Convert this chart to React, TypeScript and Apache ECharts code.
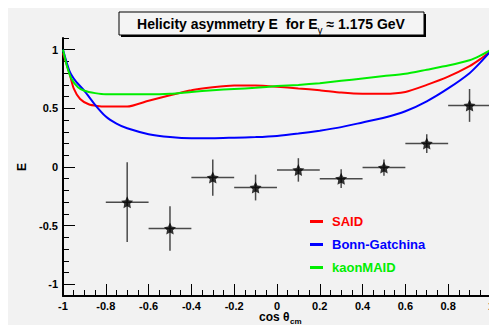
import React, { useEffect, useRef } from "react";
import * as echarts from "echarts";

// Model curves: E versus cos(theta_cm)
const saidX = [-1, -0.97, -0.95, -0.92, -0.88, -0.84, -0.8, -0.7, -0.6, -0.5, -0.4, -0.3, -0.2, -0.1, 0, 0.1, 0.2, 0.3, 0.4, 0.5, 0.6, 0.7, 0.8, 0.9, 0.95, 1];
const saidE = [0.97, 0.8, 0.67, 0.58, 0.535, 0.52, 0.515, 0.515, 0.565, 0.612, 0.655, 0.68, 0.695, 0.695, 0.685, 0.67, 0.655, 0.635, 0.625, 0.625, 0.64, 0.7, 0.77, 0.86, 0.92, 0.99];

const bgX = [-1, -0.97, -0.94, -0.9, -0.85, -0.8, -0.75, -0.7, -0.6, -0.5, -0.4, -0.3, -0.2, -0.1, 0, 0.1, 0.2, 0.3, 0.4, 0.5, 0.6, 0.7, 0.8, 0.9, 0.95, 1];
const bgE = [1.0, 0.82, 0.73, 0.65, 0.53, 0.43, 0.37, 0.33, 0.28, 0.255, 0.245, 0.245, 0.25, 0.255, 0.265, 0.285, 0.31, 0.34, 0.38, 0.42, 0.475, 0.56, 0.67, 0.8, 0.89, 0.99];

const kmX = [-1, -0.98, -0.96, -0.93, -0.9, -0.85, -0.8, -0.7, -0.6, -0.5, -0.4, -0.3, -0.2, -0.1, 0, 0.1, 0.2, 0.3, 0.4, 0.5, 0.6, 0.7, 0.8, 0.9, 0.95, 1];
const kmE = [1.0, 0.85, 0.75, 0.68, 0.65, 0.63, 0.62, 0.62, 0.62, 0.625, 0.64, 0.655, 0.665, 0.675, 0.69, 0.7, 0.715, 0.735, 0.755, 0.775, 0.795, 0.83, 0.865, 0.91, 0.95, 1.0];

// Measured points with errors
const pointX = [-0.7, -0.5, -0.3, -0.1, 0.1, 0.3, 0.5, 0.7, 0.9];
const pointE = [-0.3, -0.525, -0.09, -0.175, -0.025, -0.1, -0.005, 0.2, 0.525];
const pointErrX = [0.1, 0.1, 0.1, 0.1, 0.1, 0.1, 0.1, 0.1, 0.1];
const pointErrE = [0.34, 0.19, 0.155, 0.11, 0.1, 0.08, 0.07, 0.08, 0.14];

// Labelled ticks on the E axis
const yMajorTicks = [-1, -0.5, 0, 0.5, 1];

const FONT = '"Liberation Sans", Arial, Helvetica, sans-serif';
const STAR = "path://M0,-10 L2.9,-4 9.5,-3.1 4.7,1.5 5.9,8.1 0,5 -5.9,8.1 -4.7,1.5 -9.5,-3.1 -2.9,-4 Z";

const zip = (xs: number[], ys: number[]) => xs.map((x, i) => [x, ys[i]]);

export default function App() {
  const ref = useRef<HTMLDivElement>(null);

  useEffect(() => {
    if (!ref.current) return;
    const chart = echarts.init(ref.current, undefined, { renderer: "svg" });

    const labelStyle = { color: "#000", fontFamily: FONT, fontWeight: "bold" as const, fontSize: 11 };

    const option: any = {
      animation: false,
      backgroundColor: "#f2f2f2",
      grid: { left: 54, top: 30, right: 0, bottom: 29, containLabel: false },
      xAxis: {
        type: "value",
        min: -1,
        max: 1,
        interval: 0.2,
        axisLine: { show: true, onZero: false, lineStyle: { color: "#000", width: 2 } },
        axisTick: { show: true, inside: true, length: 12, lineStyle: { color: "#000", width: 1 } },
        minorTick: { show: true, splitNumber: 4, length: 6, lineStyle: { color: "#000", width: 1 } },
        splitLine: { show: false },
        axisLabel: {
          ...labelStyle,
          margin: 4,
          showMinLabel: true,
          showMaxLabel: true,
          formatter: (v: number) => String(+v.toFixed(2)),
        },
      },
      yAxis: [
        {
          type: "value",
          min: -1.1,
          max: 1.1,
          position: "left",
          axisLine: { show: true, onZero: false, lineStyle: { color: "#000", width: 2 } },
          axisTick: { show: true, inside: true, length: 12, customValues: yMajorTicks, lineStyle: { color: "#000", width: 1 } },
          splitLine: { show: false },
          axisLabel: {
            ...labelStyle,
            margin: 5,
            customValues: yMajorTicks,
            formatter: (v: number) => String(+v.toFixed(2)),
          },
          name: "E",
          nameLocation: "middle",
          nameRotate: 90,
          nameGap: 35,
          nameTextStyle: { color: "#000", fontFamily: FONT, fontWeight: "bold", fontSize: 12 },
        },
        {
          // short ticks every 0.1
          type: "value",
          min: -1.1,
          max: 1.1,
          interval: 0.1,
          position: "left",
          offset: 0,
          axisLine: { show: false, onZero: false },
          axisTick: { show: true, inside: true, length: 6, lineStyle: { color: "#000", width: 1 } },
          axisLabel: { show: false },
          splitLine: { show: false },
        },
      ],
      legend: {
        orient: "vertical",
        left: 297,
        top: 202,
        icon: "rect",
        itemWidth: 13,
        itemHeight: 3,
        itemGap: 10,
        textStyle: { fontFamily: FONT, fontWeight: "bold", fontSize: 13, padding: [0, 0, 0, 4] },
        data: [
          { name: "SAID", textStyle: { color: "#ff0000" } },
          { name: "Bonn-Gatchina", textStyle: { color: "#0000ff" } },
          { name: "kaonMAID", textStyle: { color: "#00ee00" } },
        ],
      },
      graphic: [
        // title box with drop shadow
        { type: "rect", shape: { x: 113, y: 6, width: 305, height: 23 }, style: { fill: "#000" }, z: 10 },
        { type: "rect", shape: { x: 111, y: 4, width: 305, height: 23 }, style: { fill: "#f4f4f4", stroke: "#000", lineWidth: 1 }, z: 11 },
        {
          type: "text",
          x: 263,
          y: 16,
          z: 12,
          style: {
            text: "Helicity asymmetry E  for E{sub|γ} ≈ 1.175 GeV",
            align: "center",
            verticalAlign: "middle",
            fontFamily: FONT,
            fontWeight: "bold",
            fontSize: 14,
            fill: "#000",
            rich: {
              sub: { fontFamily: FONT, fontSize: 10, lineHeight: 10, padding: [12, 0, 0, 0], fill: "#000" },
            },
          },
        },
        // x-axis title: cos θ with subscript cm
        {
          type: "text",
          x: 251,
          y: 309,
          z: 12,
          style: {
            text: "cos θ",
            align: "left",
            verticalAlign: "middle",
            fontFamily: FONT,
            fontWeight: "bold",
            fontSize: 12,
            fill: "#000",
          },
        },
        {
          type: "text",
          x: 282,
          y: 313,
          z: 12,
          style: {
            text: "cm",
            align: "left",
            verticalAlign: "middle",
            fontFamily: FONT,
            fontWeight: "bold",
            fontSize: 8,
            fill: "#000",
          },
        },
      ],
      series: [
        {
          name: "SAID",
          type: "line",
          data: zip(saidX, saidE),
          showSymbol: false,
          smooth: 0.2,
          color: "#ff0000",
          lineStyle: { color: "#ff0000", width: 2 },
          z: 3,
        },
        {
          name: "Bonn-Gatchina",
          type: "line",
          data: zip(bgX, bgE),
          showSymbol: false,
          smooth: 0.2,
          color: "#0000ff",
          lineStyle: { color: "#0000ff", width: 2 },
          z: 3,
        },
        {
          name: "kaonMAID",
          type: "line",
          data: zip(kmX, kmE),
          showSymbol: false,
          smooth: 0.2,
          color: "#00ee00",
          lineStyle: { color: "#00ee00", width: 2 },
          z: 3,
        },
        {
          name: "errors",
          type: "custom",
          data: pointX.map((x, i) => [x, pointE[i], pointErrX[i], pointErrE[i]]),
          encode: { x: 0, y: 1 },
          z: 4,
          renderItem: (_params: any, api: any) => {
            const x = api.value(0);
            const y = api.value(1);
            const ex = api.value(2);
            const ey = api.value(3);
            const l = api.coord([x - ex, y]);
            const r = api.coord([x + ex, y]);
            const t = api.coord([x, y + ey]);
            const b = api.coord([x, y - ey]);
            const style = { stroke: "#4a4a4a", lineWidth: 1.5 };
            return {
              type: "group",
              children: [
                { type: "line", shape: { x1: l[0], y1: l[1], x2: r[0], y2: r[1] }, style },
                { type: "line", shape: { x1: t[0], y1: t[1], x2: b[0], y2: b[1] }, style },
              ],
            };
          },
        },
        {
          name: "data",
          type: "scatter",
          data: zip(pointX, pointE),
          symbol: STAR,
          symbolSize: 12,
          itemStyle: { color: "#000" },
          z: 5,
        },
      ],
    };

    chart.setOption(option);
    return () => chart.dispose();
  }, []);

  return <div ref={ref} style={{ width: 489, height: 317 }} />;
}
